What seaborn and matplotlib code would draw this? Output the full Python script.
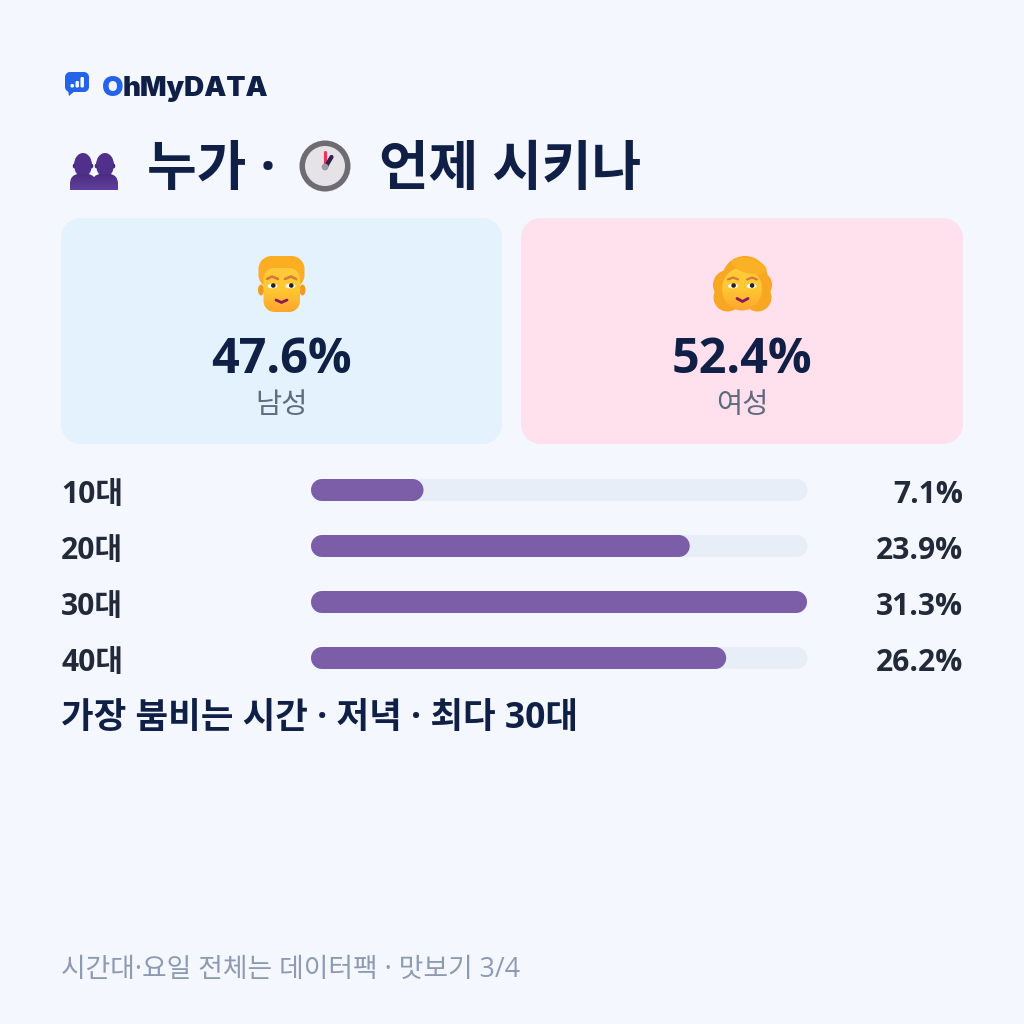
import numpy as np
import pandas as pd
import matplotlib
matplotlib.use("Agg")
import matplotlib.pyplot as plt
import seaborn as sns
from matplotlib.colors import LinearSegmentedColormap
from matplotlib.patches import Circle, Ellipse, Polygon, PathPatch
from matplotlib.path import Path

age_groups = ["10대", "20대", "30대", "40대"]
age_shares = [7.1, 23.9, 31.3, 26.2]
gender_labels = ["남성", "여성"]
gender_shares = [47.6, 52.4]
title_left = "누가 ·"
title_right = "언제 시키나"
summary_text = "가장 붐비는 시간 · 저녁 · 최다 30대"
footer_text = "시간대·요일 전체는 데이터팩 · 맛보기 3/4"

BG = "#F4F7FE"
NAVY = "#0F1F45"
INK = "#222A3A"
BAR = "#7B5EA7"
TRACK = "#E8EEF7"
GREY = "#5F6B7E"
FOOT = "#8E9AB2"
SANS = ["Open Sans", "Noto Sans CJK KR", "DejaVu Sans"]

sns.set_theme(style="white")
plt.rcParams["font.family"] = SANS

fig = plt.figure(figsize=(10.24, 10.24), dpi=100, facecolor=BG)
canvas = fig.add_axes([0, 0, 1, 1], zorder=2)
canvas.set_xlim(0, 1024)
canvas.set_ylim(1024, 0)
canvas.axis("off")
canvas.patch.set_alpha(0)


def label(x, y, s, px, color, weight="normal", ha="left", family=None):
    """Place text by baseline, with the size given in pixels."""
    return canvas.text(x, y, s, fontsize=px * 72 / 100, color=color, fontweight=weight,
                       ha=ha, va="baseline", family=family or SANS, zorder=6)


def round_path(x0, y0, x1, y1, r):
    """Rounded rectangle with true circular corners."""
    k = 0.5523 * r
    verts = [(x0 + r, y0), (x1 - r, y0),
             (x1 - r + k, y0), (x1, y0 + r - k), (x1, y0 + r),
             (x1, y1 - r),
             (x1, y1 - r + k), (x1 - r + k, y1), (x1 - r, y1),
             (x0 + r, y1),
             (x0 + r - k, y1), (x0, y1 - r + k), (x0, y1 - r),
             (x0, y0 + r),
             (x0, y0 + r - k), (x0 + r - k, y0), (x0 + r, y0),
             (x0 + r, y0)]
    codes = [Path.MOVETO, Path.LINETO] + [Path.CURVE4] * 3 + [Path.LINETO] + [Path.CURVE4] * 3 + \
            [Path.LINETO] + [Path.CURVE4] * 3 + [Path.LINETO] + [Path.CURVE4] * 3 + [Path.CLOSEPOLY]
    return Path(verts, codes)


def rounded(x0, y0, x1, y1, r, color, z=2):
    p = PathPatch(round_path(x0, y0, x1, y1, r), fc=color, ec="none", zorder=z)
    canvas.add_patch(p)
    return p


def shade(patch, stops, extent, z):
    """Fill a patch with a vertical colour ramp."""
    cmap = LinearSegmentedColormap.from_list("ramp", stops)
    im = canvas.imshow(np.linspace(0, 1, 64)[:, None], cmap=cmap, aspect="auto",
                       extent=extent, zorder=z, interpolation="bilinear", origin="upper")
    canvas.add_patch(patch)
    patch.set_facecolor("none")
    patch.set_edgecolor("none")
    im.set_clip_path(patch)
    canvas.set_xlim(0, 1024)
    canvas.set_ylim(1024, 0)


def add(p):
    canvas.add_patch(p)
    return p


def curve(points, color, lw, z=10):
    xs, ys = zip(*points)
    canvas.plot(xs, ys, color=color, lw=lw * 0.72, solid_capstyle="round", zorder=z)


def shoulders(cx):
    verts = [(cx - 13, 190), (cx - 13, 184), (cx - 13, 175), (cx - 5, 174), (cx + 5, 174),
             (cx + 13, 175), (cx + 13, 184), (cx + 13, 190), (cx - 13, 190)]
    codes = [Path.MOVETO, Path.LINETO, Path.CURVE3, Path.CURVE3, Path.LINETO,
             Path.CURVE3, Path.CURVE3, Path.LINETO, Path.CLOSEPOLY]
    return PathPatch(Path(verts, codes), zorder=4)


# Age bars go through seaborn on their own axes, then get rounded ends
bar_ax = fig.add_axes([311 / 1024, 1 - 686 / 1024, 496 / 1024, 224 / 1024], zorder=1)
df = pd.DataFrame({"age": age_groups, "share": age_shares})
sns.barplot(data=df, x="share", y="age", width=22 / 56, color=BAR, saturation=1, ax=bar_ax)
bar_ax.set_xlim(0, max(age_shares))
bar_ax.axis("off")
to_canvas = bar_ax.transData + canvas.transData.inverted()
for bar in list(bar_ax.patches):
    (x0, y0), (x1, y1) = to_canvas.transform([(bar.get_x(), bar.get_y()),
                                              (bar.get_x() + bar.get_width(),
                                               bar.get_y() + bar.get_height())])
    y0, y1 = min(y0, y1), max(y0, y1)
    rounded(311, y0, 807.5, y1, 11, TRACK, z=2)
    rounded(x0, y0, x1, y1, 11, BAR, z=3)
    bar.set_visible(False)

for i, (name, share) in enumerate(zip(age_groups, age_shares)):
    base = 503 + 56 * i
    label(61, base, name, 30, INK, "bold")
    label(963, base, f"{share:.1f}%", 30, INK, "bold", ha="right")

# Gender cards
rounded(61, 218, 502, 444, 20, "#E3F2FD", z=1)
rounded(521, 218, 963, 444, 20, "#FFE0EC", z=1)
for cx, name, share in zip([281.5, 742], gender_labels, gender_shares):
    label(cx, 373, f"{share:.1f}%", 48.5, NAVY, "bold", ha="center")
    label(cx, 413, name, 28.5, GREY, ha="center")

# Brand mark
rounded(65, 72, 89, 92, 5, "#2563EB", z=4)
add(Polygon([(68, 90), (76, 90), (69, 96)], fc="#2563EB", ec="none", zorder=4))
for x, y in [(70.5, 84), (75.5, 81), (80.5, 77)]:
    rounded(x, y, x + 3.4, 87.5, 1.2, "white", z=5)
label(102, 96, "O", 27.8, "#2563EB", 900, family=["Inter"])
label(123, 96, "hMyDATA", 27.8, NAVY, 900, family=["Inter"])

# Title line
label(147, 185, title_left, 54, NAVY, "bold")
label(379, 185, title_right, 54, NAVY, "bold")

# Busts beside the title
for cx in (105, 83):
    add(Ellipse((cx, 165), 18, 24, fc="#50308A", ec="none", zorder=4))
    add(Ellipse((cx - 9, 166), 2.5, 4.5, fc="#46287C", ec="none", zorder=4))
    add(Ellipse((cx + 9, 166), 2.5, 4.5, fc="#46287C", ec="none", zorder=4))
    shade(shoulders(cx), ["#4A2C80", "#62409E"], (cx - 13, cx + 13, 190, 174), 4)

# Clock
add(Circle((325, 166), 25.5, fc="#6E6C72", ec="none", zorder=4))
add(Circle((325, 166), 20, fc="#E5E2E8", ec="none", zorder=5))
curve([(325, 168), (325, 152)], "#F0325C", 3.2)
curve([(325, 168), (331.5, 157)], "#2E2346", 4.2)
add(Circle((325, 167), 3.4, fc="#9C9AA2", ec="none", zorder=11))

# Man's face
rounded(258.5, 256, 304.5, 288, 13, "#FBAE22", z=7)
add(Ellipse((261, 290), 6, 11, fc="#F59A1E", ec="none", zorder=7))
add(Ellipse((302.5, 290), 6, 11, fc="#F59A1E", ec="none", zorder=7))
face_m = PathPatch(round_path(263.5, 268, 300, 312, 11), zorder=8)
shade(face_m, ["#FFCB38", "#FFC734", "#FFA52C"], (263, 301, 312, 268), 8)
for ex, brow in [(272.5, [(267, 279), (272, 276.5), (278, 279)]),
                 (290.5, [(285, 279), (291, 276.5), (296, 279)])]:
    curve(brow, "#D9783A", 2.6)
    add(Ellipse((ex, 286), 10, 4.6, fc="white", ec="none", zorder=9))
    add(Circle((ex + 0.8, 285.5), 2.3, fc="#2A1E1E", ec="none", zorder=10))
curve([(276, 300), (281.5, 302.5), (287, 300)], "#8C1A5A", 2.8)

# Woman's face
for cx, cy, r in [(745, 279, 23), (728, 285, 15), (758, 285, 14), (727.5, 297.5, 14), (757.5, 297.5, 14)]:
    add(Circle((cx, cy), r, fc="#F8A722", ec="none", zorder=7))
face_w = Ellipse((742, 289), 40, 43, zorder=8)
shade(face_w, ["#FFCB38", "#FFC734", "#FFA52C"], (720, 764, 311, 267), 8)
add(Ellipse((749, 266), 36, 15, angle=14, fc="#FBB126", ec="none", zorder=9))
for ex, brow in [(733, [(728, 279.5), (733, 277.5), (738, 279.5)]),
                 (751.5, [(747, 279.5), (752, 277.5), (757, 279.5)])]:
    curve(brow, "#D9783A", 2.2)
    add(Ellipse((ex, 286), 10, 4.6, fc="white", ec="none", zorder=9))
    add(Circle((ex + 0.6, 285.5), 2.3, fc="#2A1E1E", ec="none", zorder=10))
curve([(737, 298.5), (742.5, 301.5), (748, 298.5)], "#8C1A5A", 2.8)

# Closing lines
label(61, 728, summary_text, 35.5, NAVY, "bold")
label(61, 977, footer_text, 26.8, FOOT)

fig.savefig("out.png", dpi=100, facecolor=BG)
